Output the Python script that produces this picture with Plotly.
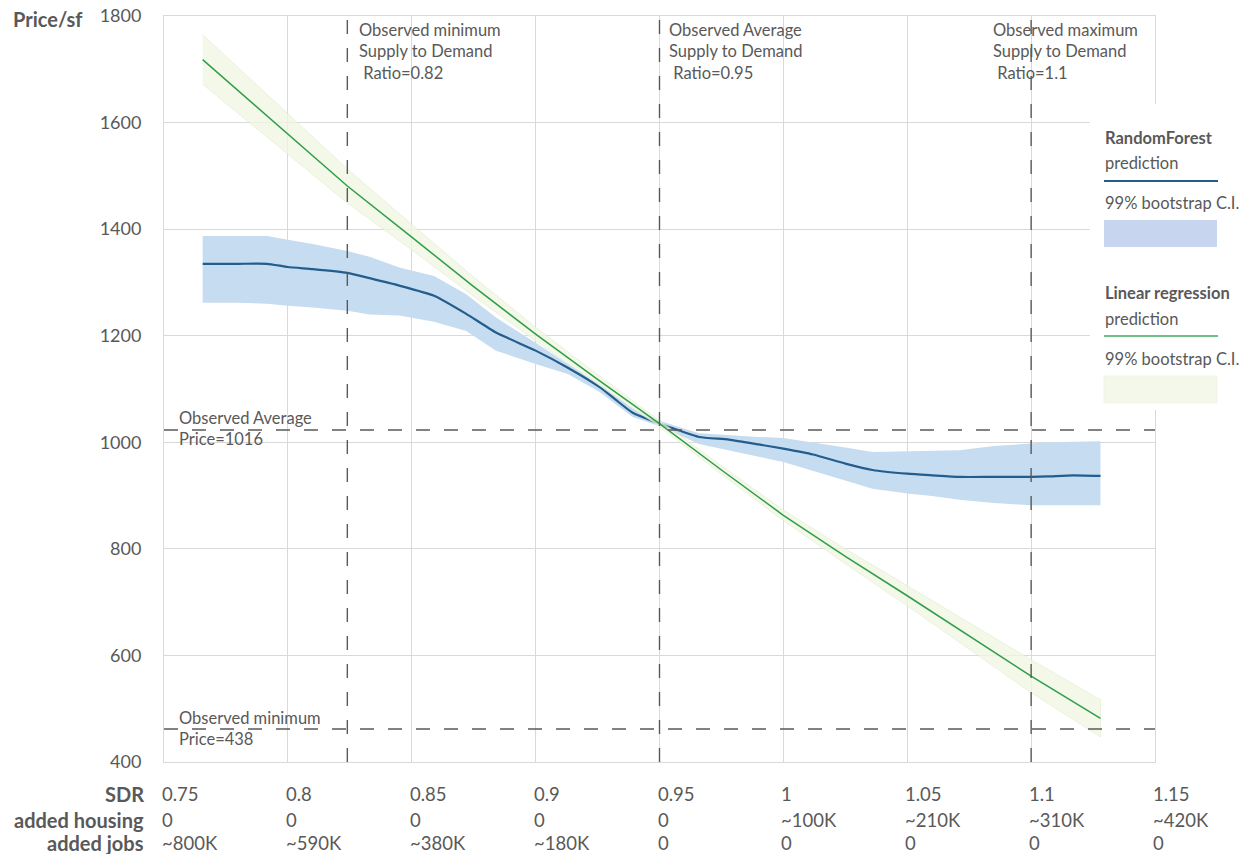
import plotly.graph_objects as go

# ---------------- data ----------------
rf_sdr = [0.7656, 0.78, 0.7916, 0.80, 0.81, 0.824, 0.833, 0.845, 0.859, 0.872, 0.884, 0.90,
          0.913, 0.926, 0.932, 0.939, 0.95, 0.958, 0.966, 0.978, 0.99, 1.00, 1.012, 1.025, 1.036,
          1.05, 1.06, 1.071, 1.085, 1.10, 1.107, 1.117, 1.128]
rf_mean = [1335, 1335, 1335, 1329, 1325, 1318, 1308, 1294, 1275, 1241, 1206, 1172,
           1140, 1103, 1081, 1056, 1035, 1022, 1010, 1005, 996, 988, 977, 960, 948,
           941, 938, 935, 935, 935, 936, 938, 937]
rf_upper = [1387, 1387, 1387, 1380, 1372, 1359, 1348, 1328, 1312, 1278, 1234, 1187,
            1147, 1110, 1088, 1064, 1041, 1028, 1017, 1013, 1010, 1008, 1000, 990, 982,
            983, 984, 985, 993, 998, 1000, 1001, 1002]
rf_lower = [1262, 1262, 1260, 1256, 1253, 1247, 1240, 1238, 1226, 1209, 1172, 1147,
            1128, 1094, 1072, 1048, 1030, 1013, 997, 985, 973, 963, 947, 928, 913,
            904, 899, 892, 886, 882, 882, 882, 882]

lr_sdr = [0.7656, 0.80, 0.824, 0.85, 0.875, 0.90, 0.925, 0.95, 0.975, 1.00, 1.025, 1.05,
          1.075, 1.10, 1.128]
lr_mean = [1718, 1578, 1481, 1385, 1292, 1203, 1118, 1035, 948, 863, 786, 712, 636, 561, 482]
lr_upper = [1765, 1616, 1513, 1409, 1310, 1216, 1127, 1041, 956, 873, 800, 731, 661, 592, 517]
lr_lower = [1672, 1540, 1449, 1361, 1274, 1190, 1109, 1029, 940, 853, 772, 693, 611, 530, 447]

obs_sdr_lines = [0.824, 0.95, 1.10]
obs_price_lines = [1023, 462]

sdr_ticks = [0.75, 0.80, 0.85, 0.90, 0.95, 1.00, 1.05, 1.10, 1.15]
sdr_labels = ["0.75", "0.8", "0.85", "0.9", "0.95", "1", "1.05", "1.1", "1.15"]
housing_labels = ["0", "0", "0", "0", "0", "~100K", "~210K", "~310K", "~420K"]
jobs_labels = ["~800K", "~590K", "~380K", "~180K", "0", "0", "0", "0", "0"]

top_notes = ["Observed minimum<br>Supply to Demand<br>\u00a0Ratio=0.82",
             "Observed Average<br>Supply to Demand<br>\u00a0Ratio=0.95",
             "Observed maximum<br>Supply to Demand<br>\u00a0Ratio=1.1"]
price_notes = ["Observed Average<br>Price=1016", "Observed minimum<br>Price=438"]

# ---------------- style ----------------
FONT = "Lato, 'Open Sans', sans-serif"
GREY = "#595959"
GRID = "#D9D9D9"
BLUE = "#235D8E"
BLUE_FILL = "#C6DCF0"
GREEN = "#2E9E48"
GREEN_FILL = "rgba(239,245,225,0.75)"

W, H = 1248, 854
PLOT_L, PLOT_R, PLOT_T, PLOT_B = 164, 1155, 16, 762   # plot area in page pixels
L, T, R, B = PLOT_L, PLOT_T, W - PLOT_R, H - PLOT_B
PW, PH = PLOT_R - PLOT_L, PLOT_B - PLOT_T


def px_x(p):
    return (p - PLOT_L) / PW


def px_y(p):
    return (PLOT_B - p) / PH


fig = go.Figure()

# Random forest band + line
fig.add_trace(go.Scatter(x=rf_sdr + rf_sdr[::-1], y=rf_upper + rf_lower[::-1],
                         fill="toself", fillcolor=BLUE_FILL, line=dict(width=0),
                         mode="lines", hoverinfo="skip", showlegend=False))
fig.add_trace(go.Scatter(x=rf_sdr, y=rf_mean, mode="lines",
                         line=dict(color=BLUE, width=2.2, shape="spline", smoothing=0.5),
                         showlegend=False))
# Linear regression band + line
fig.add_trace(go.Scatter(x=lr_sdr + lr_sdr[::-1], y=lr_upper + lr_lower[::-1],
                         fill="toself", fillcolor=GREEN_FILL,
                         line=dict(width=0.6, color="rgba(220,232,195,0.8)"),
                         mode="lines", hoverinfo="skip", showlegend=False))
fig.add_trace(go.Scatter(x=lr_sdr, y=lr_mean, mode="lines",
                         line=dict(color=GREEN, width=1.5), showlegend=False))

shapes = []
for xv in obs_sdr_lines:
    shapes.append(dict(type="line", xref="x", yref="paper", x0=xv, x1=xv, y0=0, y1=1.004,
                       line=dict(color=GREY, width=1.4, dash="14px,14px"), layer="above"))
for yv in obs_price_lines:
    shapes.append(dict(type="line", xref="paper", yref="y", x0=0, x1=1, y0=yv, y1=yv,
                       line=dict(color=GREY, width=1.4, dash="14px,14px"), layer="above"))

# legend box (white background covering grid)
shapes.append(dict(type="rect", xref="paper", yref="paper", x0=px_x(1090), x1=px_x(1248),
                   y0=px_y(410), y1=px_y(104), fillcolor="white", line=dict(width=0),
                   layer="above"))
shapes.append(dict(type="line", xref="paper", yref="paper", x0=px_x(1104), x1=px_x(1218),
                   y0=px_y(181), y1=px_y(181), line=dict(color=BLUE, width=2), layer="above"))
shapes.append(dict(type="rect", xref="paper", yref="paper", x0=px_x(1104), x1=px_x(1217),
                   y0=px_y(247), y1=px_y(220), fillcolor="#C7D6EE", line=dict(width=0),
                   layer="above"))
shapes.append(dict(type="line", xref="paper", yref="paper", x0=px_x(1104), x1=px_x(1218),
                   y0=px_y(336), y1=px_y(336), line=dict(color="#3DAA5C", width=1.5),
                   layer="above"))
shapes.append(dict(type="rect", xref="paper", yref="paper", x0=px_x(1104), x1=px_x(1217),
                   y0=px_y(403), y1=px_y(376), fillcolor="#F4F8EA",
                   line=dict(width=0.6, color="#E9F0DA"), layer="above"))

ann = []


def add_text(text, xp, yp, size=16, bold=False, xanchor="left", yanchor="middle", color=GREY):
    if bold:
        text = "<b>" + text + "</b>"
    ann.append(dict(text=text, xref="paper", yref="paper", x=px_x(xp), y=px_y(yp),
                    xanchor=xanchor, yanchor=yanchor, showarrow=False, align="left",
                    font=dict(family=FONT, size=size, color=color)))


# top notes
for note, xp in zip(top_notes, [357, 667, 991]):
    add_text(note, xp, 18, size=16.5, yanchor="top")
# price notes
for note, yp in zip(price_notes, [406, 706]):
    add_text(note, 177, yp, size=16.5, yanchor="top")

# legend texts
add_text("RandomForest", 1103, 138, size=16.5, bold=True)
add_text("prediction", 1103, 163, size=16.5)
add_text("99% bootstrap C.I.", 1103, 203, size=16.5)
add_text("Linear regression", 1103, 293, size=16.5, bold=True)
add_text("prediction", 1103, 319, size=16.5)
add_text("99% bootstrap C.I.", 1103, 359, size=16.5)

# axis title
add_text("Price/sf", 11, 19, size=20, bold=True)

# bottom table
rows = [("SDR", sdr_labels, 794), ("added housing", housing_labels, 820),
        ("added jobs", jobs_labels, 843)]
for title, labels, yp in rows:
    add_text(title, 146, yp, size=20, bold=True, xanchor="right")
    for xv, lab in zip(sdr_ticks, labels):
        ann.append(dict(text=lab, xref="x", yref="paper", x=xv, y=px_y(yp),
                        xanchor="left", yanchor="middle", showarrow=False, xshift=-4,
                        font=dict(family=FONT, size=18.5, color=GREY)))

fig.update_layout(
    width=W, height=H,
    margin=dict(l=L, r=R, t=T, b=B, autoexpand=False),
    plot_bgcolor="white", paper_bgcolor="white",
    font=dict(family=FONT, size=18, color=GREY),
    showlegend=False,
    shapes=shapes, annotations=ann,
    xaxis=dict(range=[0.75, 1.15], tick0=0.75, dtick=0.05, showticklabels=False,
               showgrid=True, gridcolor=GRID, gridwidth=1, zeroline=False, automargin=False,
               showline=True, mirror=True, linecolor=GRID, linewidth=1, ticks=""),
    yaxis=dict(range=[400, 1800], tick0=400, dtick=200, showgrid=True, gridcolor=GRID,
               gridwidth=1, zeroline=False, showline=True, mirror=True, linecolor=GRID,
               linewidth=1, ticks="", ticklabelstandoff=18, automargin=False,
               ticklabeloverflow="allow",
               tickfont=dict(family=FONT, size=18, color=GREY)),
)

# remove the default 8px page margin so the 1248x854 figure fills the window exactly
fig.write_html("out.html", config={"displayModeBar": False},
               post_script="document.body.style.margin='0px';")
